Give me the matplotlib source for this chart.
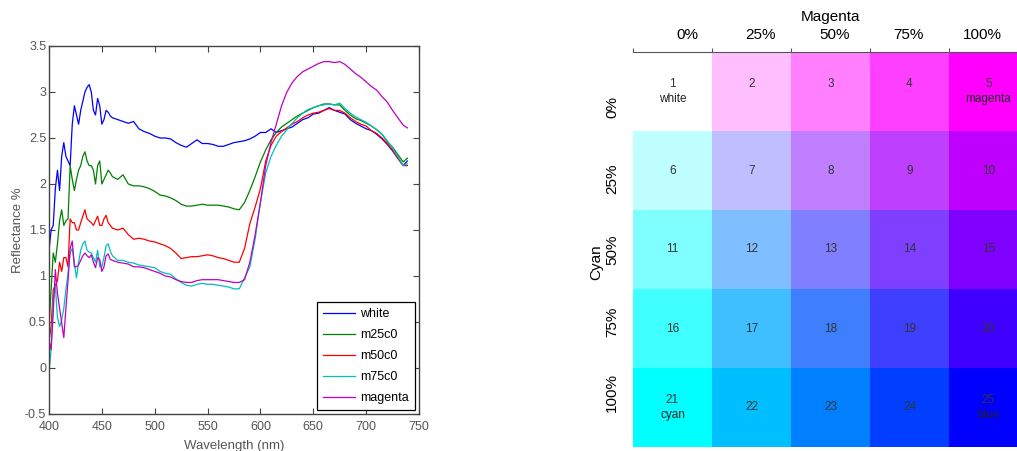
import numpy as np
import matplotlib
matplotlib.use('Agg')
from matplotlib import pyplot as plt

plt.rcParams['font.family'] = ['Liberation Sans', 'DejaVu Sans']

# sampling grid of the spectra (nm)
wavelength = list(range(400, 461, 2)) + list(range(465, 736, 5)) + [739]

white = [1.28, 1.5, 1.55, 1.95, 2.15, 1.93, 2.3, 2.45, 2.3, 2.25, 2.2, 2.65, 2.85, 2.75, 2.65, 2.8,
         2.9, 3.0, 3.05, 3.08, 3.0, 2.8, 2.75, 2.93, 2.85, 2.65, 2.7, 2.8, 2.78, 2.74, 2.72,
         2.7, 2.68, 2.66, 2.68, 2.6, 2.57, 2.55, 2.52, 2.5, 2.5, 2.49, 2.45, 2.42, 2.4, 2.44, 2.48,
         2.44, 2.44, 2.43, 2.41, 2.41, 2.43, 2.45, 2.46, 2.47, 2.49, 2.52, 2.56, 2.56, 2.6, 2.56,
         2.58, 2.6, 2.62, 2.66, 2.7, 2.72, 2.76, 2.77, 2.8, 2.83, 2.8, 2.78, 2.76, 2.7, 2.66, 2.63,
         2.6, 2.58, 2.54, 2.49, 2.43, 2.36, 2.28, 2.2, 2.25]
m25c0 = [0.45, 0.85, 1.25, 1.15, 1.35, 1.6, 1.72, 1.55, 1.6, 1.62, 2.2, 2.05, 1.93, 2.05, 2.15, 2.2,
         2.3, 2.35, 2.25, 2.2, 2.2, 2.15, 2.0, 2.2, 2.25, 2.0, 2.05, 2.1, 2.15, 2.12, 2.08,
         2.05, 2.1, 2.0, 1.98, 1.98, 1.97, 1.95, 1.92, 1.88, 1.87, 1.85, 1.82, 1.78, 1.76, 1.76, 1.77,
         1.78, 1.77, 1.77, 1.77, 1.76, 1.75, 1.73, 1.72, 1.8, 1.93, 2.08, 2.24, 2.37, 2.48, 2.56,
         2.62, 2.66, 2.7, 2.74, 2.77, 2.8, 2.83, 2.85, 2.87, 2.87, 2.86, 2.86, 2.8, 2.75, 2.71, 2.69,
         2.66, 2.63, 2.59, 2.54, 2.46, 2.4, 2.32, 2.24, 2.28]
m50c0 = [0.3, 0.45, 0.85, 0.9, 0.95, 1.15, 1.05, 1.2, 1.2, 1.1, 1.62, 1.58, 1.58, 1.5, 1.5, 1.58,
         1.65, 1.72, 1.62, 1.6, 1.58, 1.55, 1.6, 1.65, 1.55, 1.55, 1.62, 1.66, 1.58, 1.55, 1.52,
         1.5, 1.52, 1.45, 1.4, 1.41, 1.4, 1.38, 1.37, 1.35, 1.33, 1.3, 1.25, 1.19, 1.2, 1.21, 1.21,
         1.22, 1.23, 1.22, 1.2, 1.19, 1.17, 1.15, 1.15, 1.3, 1.57, 1.75, 1.95, 2.25, 2.42, 2.52,
         2.57, 2.61, 2.65, 2.68, 2.72, 2.75, 2.77, 2.78, 2.8, 2.82, 2.8, 2.8, 2.77, 2.72, 2.68, 2.65,
         2.63, 2.58, 2.55, 2.5, 2.44, 2.37, 2.28, 2.2, 2.2]
m75c0 = [-0.05, 0.2, 0.74, 0.89, 0.55, 0.45, 0.52, 0.65, 0.85, 1.03, 1.25, 1.3, 1.14, 0.98, 1.15, 1.28,
         1.35, 1.38, 1.28, 1.26, 1.25, 1.2, 1.15, 1.28, 1.1, 1.1, 1.2, 1.33, 1.35, 1.27, 1.22,
         1.17, 1.17, 1.15, 1.14, 1.12, 1.11, 1.1, 1.09, 1.05, 1.03, 1.02, 0.97, 0.93, 0.9, 0.89, 0.91,
         0.92, 0.91, 0.91, 0.9, 0.89, 0.88, 0.86, 0.86, 0.98, 1.1, 1.4, 1.8, 2.12, 2.3, 2.42,
         2.52, 2.59, 2.66, 2.72, 2.77, 2.81, 2.83, 2.85, 2.86, 2.87, 2.86, 2.88, 2.82, 2.77, 2.73, 2.7,
         2.67, 2.63, 2.59, 2.54, 2.47, 2.39, 2.3, 2.2, 2.22]
magenta = [0.3, 0.2, 0.6, 1.07, 0.81, 0.65, 0.49, 0.33, 0.65, 0.95, 1.3, 1.38, 1.1, 1.1, 1.12, 1.17,
           1.22, 1.25, 1.22, 1.2, 1.23, 1.15, 1.09, 1.2, 1.18, 1.05, 1.1, 1.22, 1.24, 1.18, 1.17,
           1.15, 1.14, 1.13, 1.1, 1.1, 1.09, 1.07, 1.05, 1.03, 1.0, 0.99, 0.96, 0.94, 0.93, 0.93, 0.95,
           0.96, 0.96, 0.96, 0.96, 0.95, 0.94, 0.93, 0.93, 0.96, 1.15, 1.45, 1.8, 2.2, 2.45, 2.65,
           2.85, 3.0, 3.1, 3.17, 3.22, 3.25, 3.28, 3.31, 3.33, 3.33, 3.32, 3.33, 3.3, 3.25, 3.2, 3.16,
           3.11, 3.06, 3.02, 2.95, 2.89, 2.8, 2.72, 2.64, 2.61]

series_names = ['white', 'm25c0', 'm50c0', 'm75c0', 'magenta']
series_colors = [(0, 0, 1), (0, 0.5, 0), (1, 0, 0), (0, 0.75, 0.75), (0.75, 0, 0.75)]

# colour grid: rows = cyan level, columns = magenta level
cyan_levels = [0, 0.25, 0.5, 0.75, 1.0]
magenta_levels = [0, 0.25, 0.5, 0.75, 1.0]
level_labels = ['0%', '25%', '50%', '75%', '100%']
cell_names = {1: 'white', 5: 'magenta', 21: 'cyan', 25: 'blue'}

fig = plt.figure(figsize=(10.17, 4.51), dpi=100)

# ---- spectra ----
ax = fig.add_axes([49 / 1017, 1 - 414 / 451, 370 / 1017, 368 / 451])
for ys, name, col in zip([white, m25c0, m50c0, m75c0, magenta], series_names, series_colors):
    ax.plot(wavelength, ys, color=col, lw=0.9, label=name)
ax.set_xlim(400, 750)
ax.set_ylim(-0.5, 3.5)
ax.set_xticks(range(400, 751, 50))
ax.set_yticks(np.arange(-0.5, 3.51, 0.5))
ax.set_yticklabels(['-0.5', '0', '0.5', '1', '1.5', '2', '2.5', '3', '3.5'])
ax.tick_params(direction='in', length=4, top=True, right=True, labelsize=9,
               colors='#444444', labelcolor='#555555')
ax.tick_params(axis='y', pad=2)
ax.tick_params(axis='x', pad=5)
for s in ax.spines.values():
    s.set_color('#444444')
    s.set_linewidth(1)
ax.set_xlabel('Wavelength (nm)', fontsize=9.5, color='#555555')
ax.set_ylabel('Reflectance %', fontsize=9.5, color='#555555')
ax.xaxis.set_label_coords(0.5, -0.072)
ax.yaxis.set_label_coords(-0.068, 0.5)
leg = ax.legend(loc='lower right', fontsize=9, frameon=True, fancybox=False,
                edgecolor='black', framealpha=1, borderaxespad=0.35,
                handlelength=2.6, handletextpad=0.4, labelspacing=0.72, borderpad=0.45)
leg.get_frame().set_linewidth(0.9)

# ---- colour grid ----
rgb = np.array([[[1 - c, 1 - m, 1.0] for m in magenta_levels] for c in cyan_levels])
gx = fig.add_axes([633 / 1017, 4 / 451, 395 / 1017, 395 / 451])
gx.imshow(rgb, extent=(0, 5, 5, 0), aspect='auto', interpolation='nearest')
gx.set_xlim(0, 5)
gx.set_ylim(5, 0)
gx.xaxis.tick_top()
gx.set_xticks(range(6))
gx.set_yticks([])
gx.tick_params(axis='x', direction='out', length=3, labeltop=False, colors='#555555')
for k in ['left', 'right', 'bottom']:
    gx.spines[k].set_visible(False)
gx.spines['top'].set_color('#555555')

n = 1
for i in range(len(cyan_levels)):
    for j in range(len(magenta_levels)):
        name = cell_names.get(n)
        dy = -0.1 if (name or i == 0) else 0.0
        gx.text(j + 0.5, i + 0.5 + dy, str(n), ha='center', va='center', fontsize=8.5, color='#333333')
        if name:
            gx.text(j + 0.5, i + 0.59, name, ha='center', va='center', fontsize=8.5, color='#222222')
        n += 1

for x, lab in zip(np.linspace(687, 982, 5), level_labels):
    fig.text(x / 1017, 1 - 35 / 451, lab, ha='center', va='center', fontsize=11)
for y, lab in zip(np.linspace(107, 393, 5), level_labels):
    fig.text(612 / 1017, 1 - y / 451, lab, ha='center', va='center', fontsize=11, rotation=90)
fig.text(830 / 1017, 1 - 17 / 451, 'Magenta', ha='center', va='center', fontsize=11)
fig.text(596 / 1017, 1 - 262 / 451, 'Cyan', ha='center', va='center', fontsize=11, rotation=90)

fig.savefig('out.png', dpi=100)
